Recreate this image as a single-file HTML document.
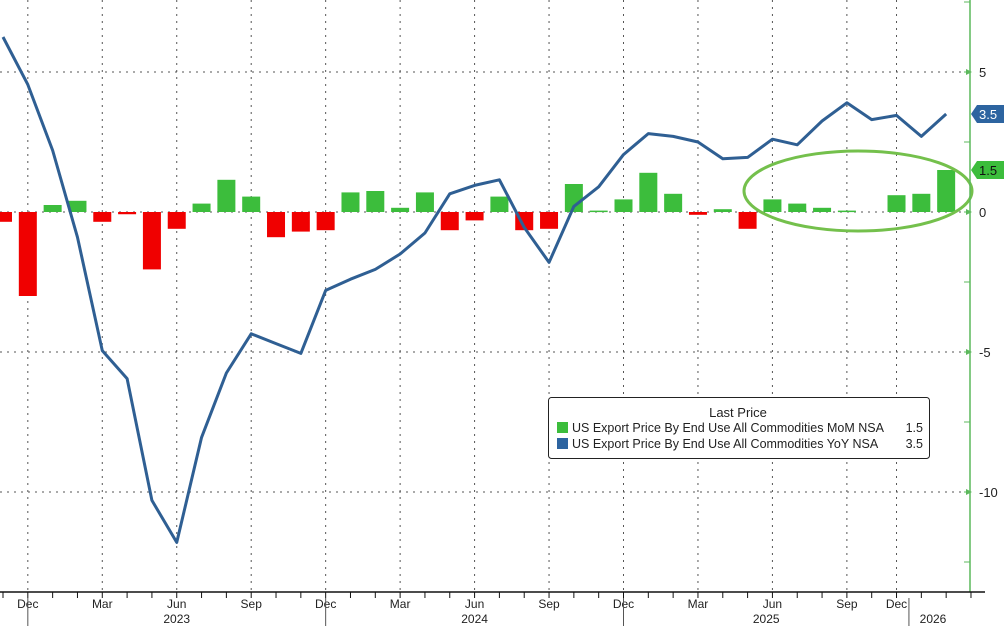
<!DOCTYPE html>
<html><head><meta charset="utf-8">
<style>
body{margin:0;background:#fff;}
svg{display:block;font-family:"Liberation Sans","DejaVu Sans",sans-serif;}
</style></head>
<body>
<svg id="chart" width="1004" height="626" viewBox="0 0 1004 626" xmlns="http://www.w3.org/2000/svg">
<g id="grid"></g>
<g id="bars"></g>
<g id="lineg"></g>
<ellipse cx="858" cy="191" rx="114" ry="40" fill="none" stroke="#74c04c" stroke-width="3"/>
<g id="axes"></g>
<g>
<rect x="548.5" y="397.5" width="381" height="61" rx="3" fill="#fff" stroke="#222" stroke-width="1"/>
<text x="738" y="417" font-size="13" text-anchor="middle" fill="#222">Last Price</text>
<rect x="557" y="422" width="11" height="11" fill="#3cbd3c"/>
<text x="572" y="432" font-size="12.5" fill="#222">US Export Price By End Use All Commodities MoM NSA</text>
<text x="923" y="432" font-size="12.5" text-anchor="end" fill="#222">1.5</text>
<rect x="557" y="438" width="11" height="11" fill="#2d64a0"/>
<text x="572" y="448" font-size="12.5" fill="#222">US Export Price By End Use All Commodities YoY NSA</text>
<text x="923" y="448" font-size="12.5" text-anchor="end" fill="#222">3.5</text>
</g>
</svg>
<script>
const categories=["Nov22","Dec22","Jan23","Feb23","Mar23","Apr23","May23","Jun23","Jul23","Aug23","Sep23","Oct23","Nov23","Dec23","Jan24","Feb24","Mar24","Apr24","May24","Jun24","Jul24","Aug24","Sep24","Oct24","Nov24","Dec24","Jan25","Feb25","Mar25","Apr25","May25","Jun25","Jul25","Aug25","Sep25","Nov25","Dec25","Jan26","Feb26"];
const momValues=[-0.35,-3.0,0.25,0.4,-0.35,-0.08,-2.05,-0.6,0.3,1.15,0.55,-0.9,-0.7,-0.65,0.7,0.75,0.15,0.7,-0.65,-0.3,0.55,-0.65,-0.6,1.0,0.05,0.45,1.4,0.65,-0.1,0.1,-0.6,0.45,0.3,0.15,0.05,null,0.6,0.65,1.5];
const yoyValues=[6.25,4.55,2.2,-0.9,-4.95,-5.95,-10.3,-11.8,-8.05,-5.75,-4.35,-4.7,-5.05,-2.8,-2.4,-2.05,-1.5,-0.75,0.65,0.95,1.15,-0.55,-1.8,0.2,0.9,2.05,2.8,2.7,2.5,1.9,1.95,2.6,2.4,3.25,3.9,3.3,3.45,2.7,3.5];
const yTicks=[5,0,-5,-10];
const monthLabels=["Dec","Mar","Jun","Sep","Dec","Mar","Jun","Sep","Dec","Mar","Jun","Sep","Dec"];
const monthLabelIdx=[1,4,7,10,13,16,19,22,25,28,31,34,36];
const yearLabels=["2023","2024","2025","2026"];
const yearStartIdx=[1,13,25,36.5];
const yearEndIdx=[13,25,36.5,39];

const NS="http://www.w3.org/2000/svg";
const x=i=>3+i*24.82;
const y=v=>212-v*28;
function mk(tag,attrs,parent){const e=document.createElementNS(NS,tag);for(const k in attrs)e.setAttribute(k,attrs[k]);parent.appendChild(e);return e;}
const grid=document.getElementById('grid'),bars=document.getElementById('bars'),lineg=document.getElementById('lineg'),axes=document.getElementById('axes');

yTicks.forEach(t=>{
  const l=mk('line',{x1:0,x2:970,y1:y(t),y2:y(t),stroke:'#555','stroke-width':1,'stroke-dasharray':'2,5'},grid);
  
  
});
monthLabelIdx.forEach(i=>{
  const l=mk('line',{x1:x(i),x2:x(i),y1:0,y2:592,stroke:'#555','stroke-width':1,'stroke-dasharray':'2,5'},grid);
  
  
});

momValues.forEach((v,i)=>{
  if(v===null)return;
  const top=Math.min(y(v),y(0)),h=Math.max(Math.abs(y(v)-y(0)),1.5);
  const r=mk('rect',{x:x(i)-9,y:top,width:18,height:h,fill:v>=0?'#3cbd3c':'#f00000'},bars);
  
  
});

const pts=yoyValues.map((v,i)=>x(i)+','+y(v)).join(' ');
const pl=mk('polyline',{points:pts,fill:'none',stroke:'#2f5f93','stroke-width':3,'stroke-linejoin':'round'},lineg);



// right axis
mk('line',{x1:970,x2:970,y1:0,y2:592,stroke:'#5cb85c','stroke-width':1.5},axes);
for(let v=7.5;v>=-12.5;v-=2.5){mk('line',{x1:964,x2:970,y1:y(v),y2:y(v),stroke:'#5cb85c','stroke-width':1},axes);}
yTicks.forEach(t=>{
  mk('polygon',{points:`966,${y(t)-3} 972,${y(t)} 966,${y(t)+3}`,fill:'#5cb85c'},axes);
  const tx=mk('text',{x:979,y:y(t)+5,'font-size':13,fill:'#222'},axes);
  tx.textContent=t<0?'-'+Math.abs(t):String(t);
  
  
});
// value tags
function tag(v,col,txt,name){
  const yy=y(v);
  const p=mk('polygon',{points:`971,${yy} 977,${yy-9} 1004,${yy-9} 1004,${yy+9} 977,${yy+9}`,fill:col},axes);
  
  
  const t=mk('text',{x:979,y:yy+5,'font-size':13,fill:txt==='w'?'#fff':'#111'},axes);
  t.textContent=v.toFixed(1);
  
  
}
tag(yoyValues[yoyValues.length-1],'#2d64a0','w','yoy-last-tag');
tag(momValues[momValues.length-1],'#3cbd3c','b','mom-last-tag');

// bottom axis
mk('line',{x1:0,x2:985,y1:592,y2:592,stroke:'#111','stroke-width':1.5},axes);
for(let i=0;i<categories.length+1;i++){mk('line',{x1:x(i),x2:x(i),y1:592,y2:598,stroke:'#111','stroke-width':1},axes);}
monthLabels.forEach((m,k)=>{
  const t=mk('text',{x:x(monthLabelIdx[k]),y:608,'font-size':12,'text-anchor':'middle',fill:'#222'},axes);
  t.textContent=m;
  
  
});
yearLabels.forEach((yl,k)=>{
  const sx=x(yearStartIdx[k]);
  mk('line',{x1:sx,x2:sx,y1:598,y2:626,stroke:'#555','stroke-width':1},axes);
  const cx=k===3?933:(x(yearStartIdx[k])+x(yearEndIdx[k]))/2;
  const t=mk('text',{x:cx,y:623,'font-size':12,'text-anchor':'middle',fill:'#222'},axes);
  t.textContent=yl;
  
  
});
</script>
</body></html>
